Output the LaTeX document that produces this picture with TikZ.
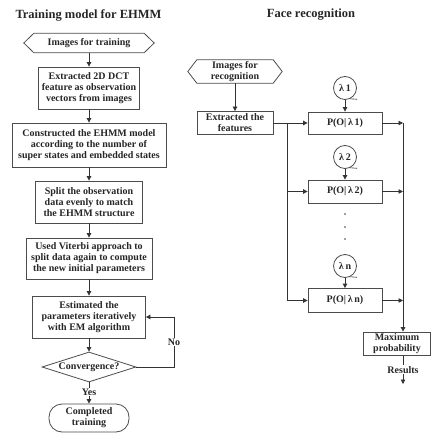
\documentclass[tikz,border=0pt]{standalone}
\usepackage{fontspec}
\setmainfont{Liberation Serif}
\usetikzlibrary{arrows.meta,calc,shapes.geometric}
\begin{document}
\begin{tikzpicture}[x=1pt,y=-1pt,
  every node/.style={font=\bfseries\fontsize{10}{11}\selectfont, text=black!85},
  titletext/.style={font=\bfseries\fontsize{12.5}{14}\selectfont},
  outline/.style={draw=black!70, line width=0.8pt},
  flowbox/.style={outline, fill=white, align=center, inner sep=1pt},
  hexbox/.style={align=center, inner sep=1pt},
  decision/.style={outline, fill=white, shape=diamond, aspect=3.1, inner sep=0pt},
  lam/.style={outline, circle, minimum size=23pt, inner sep=0pt},
  dotmark/.style={circle, fill=black!75, minimum size=1.6pt, inner sep=0pt},
  plain/.style={draw=black!80, line width=0.8pt},
  conn/.style={plain, -{Triangle[length=4.5pt,width=4.5pt]}},
  lbl/.style={fill=white, inner sep=1pt}
]
\useasboundingbox (0,0) rectangle (431,435);

% titles
\node[titletext] (t1) at (88.5,15) {Training model for EHMM};
\node[titletext] (t2) at (311,15) {Face recognition};

% ---------- left column ----------
\node[hexbox, minimum width=110, minimum height=19] (h1) at (89,43) {Images for training};
\draw[outline] ($(h1.west)+(-10,0)$) -- (h1.north west) -- (h1.north east)
  -- ($(h1.east)+(10,0)$) -- (h1.south east) -- (h1.south west) -- cycle;

\node[flowbox, minimum width=101, minimum height=42] (b1) at (89,88)
  {Extracted 2D DCT\\feature as observation\\vectors from images};
\node[flowbox, minimum width=154, minimum height=44] (b2) at (89,145)
  {Constructed the EHMM model\\according to the number of\\super states and embedded states};
\node[flowbox, minimum width=107, minimum height=42] (b3) at (89,202)
  {Split the observation\\data evenly to match\\the EHMM structure};
\node[flowbox, minimum width=126, minimum height=41] (b4) at (89,258.5)
  {Used Viterbi approach to\\split data again to compute\\the new initial parameters};
\node[flowbox, minimum width=113, minimum height=42] (b5) at (89,317)
  {Estimated the\\parameters iteratively\\with EM algorithm};
\node[decision, minimum width=94, minimum height=30] (cv) at (89,367) {Convergence?};
\node[flowbox, rounded corners=13, minimum width=80, minimum height=28] (end) at (89,418)
  {Completed\\training};

\draw[conn] (h1) -- (b1);
\draw[conn] (b1) -- (b2);
\draw[conn] (b2) -- (b3);
\draw[conn] (b3) -- (b4);
\draw[conn] (b4) -- (b5);
\draw[conn] (b5) -- (cv);
\draw[conn] (cv) -- node[lbl, pos=0.45] {Yes} (end);

\coordinate (lp1) at (174,367);
\coordinate (lp2) at (174,317);
\draw[conn] (cv.east) -- (lp1) -- node[lbl] {No} (lp2) -- (b5.east);

% ---------- right column ----------
\node[hexbox, minimum width=76, minimum height=23] (h2) at (235,71.5) {Images for\\recognition};
\draw[outline] ($(h2.west)+(-9,0)$) -- (h2.north west) -- (h2.north east)
  -- ($(h2.east)+(9,0)$) -- (h2.south east) -- (h2.south west) -- cycle;

\node[flowbox, minimum width=76, minimum height=23] (ext) at (235,123) {Extracted the\\features};
\draw[conn] (h2) -- (ext);

\node[flowbox, minimum width=74, minimum height=22] (p1) at (345,123) {P(O|\,λ\,1)};
\node[flowbox, minimum width=74, minimum height=23] (p2) at (345,191.5) {P(O|\,λ\,2)};
\node[flowbox, minimum width=74, minimum height=24] (pn) at (345,300.5) {P(O|\,λ\,n)};

\node[lam] (l1) at (345,88) {λ\,1};
\node[lam] (l2) at (345,157) {λ\,2};
\node[lam] (ln) at (345,266) {λ\,n};
\draw[plain, line width=0.6pt] (l1.-65) -- ++(7,0.5);
\draw[plain, line width=0.6pt] (l2.-65) -- ++(7,0.5);
\draw[plain, line width=0.6pt] (ln.-65) -- ++(7,0.5);
\draw[conn] (l1) -- (p1);
\draw[conn] (l2) -- (p2);
\draw[conn] (ln) -- (pn);

\node[dotmark] (d1) at (345,214) {};
\node[dotmark] (d2) at (345,227) {};
\node[dotmark] (d3) at (345,239) {};

% left distribution line
\coordinate (sl1) at (287,123);
\coordinate (sl2) at (287,191.5);
\coordinate (sl3) at (287,300.5);
\draw[conn] (ext) -- (p1);
\draw[plain] (sl1) -- (sl3);
\draw[conn] (sl2) -- (p2.west);
\draw[conn] (sl3) -- (pn.west);

% right collecting line
\coordinate (sr1) at (403,123);
\coordinate (sr2) at (403,191.5);
\coordinate (sr3) at (403,300.5);
\draw[conn] (p1.east) -- (sr1);
\draw[conn] (p2.east) -- (sr2);
\draw[conn] (pn.east) -- (sr3);

\node[flowbox, minimum width=67, minimum height=23] (mx) at (397,343.5) {Maximum\\probability};
\draw[conn] (sr1) -- (sr1 |- mx.north);

\coordinate (res) at (403,384);
\draw[conn] (mx.south -| sr1) -- node[lbl] {Results} (res);
\end{tikzpicture}
\end{document}
